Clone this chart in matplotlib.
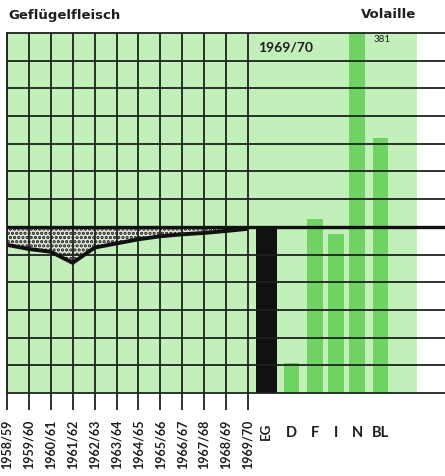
import matplotlib
matplotlib.use("Agg")
import matplotlib.pyplot as plt

# ---- data ----
years = ["1958/59", "1959/60", "1960/61", "1961/62", "1962/63", "1963/64",
         "1964/65", "1965/66", "1966/67", "1967/68", "1968/69", "1969/70"]
eg_series = [93.5, 92, 91, 87, 92.5, 94, 95.5, 96.6, 97.3, 97.8, 98.5, 99.3]
countries = ["EG", "D", "F", "I", "N", "BL"]
values_1969 = [100, 51, 103, 97.5, 381, 132]
title_left = "Geflügelfleisch"
title_right = "Volaille"
year_label = "1969/70"
n_label = "381"

# ---- style ----
BG = "#c3efba"
BAR = "#6fd463"
GRID = "#1c241c"
TXT = "#1e1e1e"
plt.rcParams["font.family"] = ["Lato", "DejaVu Sans"]
plt.rcParams["hatch.linewidth"] = 1.6
plt.rcParams["hatch.color"] = "#1a1a1a"

fig = plt.figure(figsize=(4.45, 4.76), dpi=100)
ax = fig.add_axes([7 / 445, 1 - 393 / 476, 438 / 445, 360 / 476])

ymin, ymax, base = 40, 170, 100
ax.set_xlim(0, 20)
ax.set_ylim(ymin, ymax)

xs = list(range(len(years)))
ax.axvspan(0, 18.72, color=BG, zorder=0, lw=0)

# bars (from bottom)
bar_x = [11.85, 12.99, 14.06, 15.02, 15.98, 17.05]
bar_w = [0.96, 0.7, 0.72, 0.72, 0.72, 0.7]
for i, (c, v) in enumerate(zip(countries, values_1969)):
    col = "#111111" if c == "EG" else BAR
    ax.bar(bar_x[i], v - ymin, bottom=ymin, width=bar_w[i], color=col, lw=0, zorder=1)

# stippled area between series and 100 line
ax.fill_between(xs, eg_series, base, facecolor="#e2eadb", edgecolor="#1a1a1a",
                hatch="....", lw=0, zorder=2)

# grid
for y in range(50, 170, 10):
    if y == base:
        continue
    ax.axhline(y, color=GRID, lw=1.3, zorder=3)
ax.vlines(xs, ymin, ymax, color=GRID, lw=1.3, zorder=3)
ax.axhline(base, color="#111111", lw=2.4, zorder=4)

# series line
ax.plot(xs, eg_series, color="#111111", lw=2.8, zorder=5, solid_capstyle="butt")

# spines
ax.spines["right"].set_visible(False)
for s in ["left", "bottom", "top"]:
    ax.spines[s].set_color(GRID)
    ax.spines[s].set_linewidth(1.3)
ax.set_yticks([])

ax.set_xticks(xs)
ax.set_xticklabels(years, rotation=90, fontsize=9, fontweight="bold", color=TXT)
ax.tick_params(axis="x", length=12, width=1.3, color=GRID, pad=7)

# EG label (rotated) and country labels
ax.text(bar_x[0] - 0.05, -0.082, countries[0], transform=ax.get_xaxis_transform(), rotation=90,
        ha="center", va="top", fontsize=9.5, fontweight="bold", color=TXT)
for i in range(1, len(countries)):
    ax.text(bar_x[i], -0.112, countries[i], transform=ax.get_xaxis_transform(),
            ha="center", va="center", fontsize=10.5, fontweight="bold", color=TXT)

# texts
ax.text(12.7, 164.6, year_label, ha="center", va="center", fontsize=10,
        fontweight="bold", color=TXT, zorder=6)
ax.text(17.15, 167.6, n_label, ha="center", va="center", fontsize=7,
        color=TXT, zorder=6)

fig.text(8 / 445, 1 - 15 / 476, title_left, ha="left", va="center", fontsize=9.5,
         fontweight="bold", color=TXT, family=["DejaVu Sans"])
fig.text(416 / 445, 1 - 15 / 476, title_right, ha="right", va="center", fontsize=9.5,
         fontweight="bold", color=TXT, family=["DejaVu Sans"])

fig.savefig("out.png", dpi=100)
